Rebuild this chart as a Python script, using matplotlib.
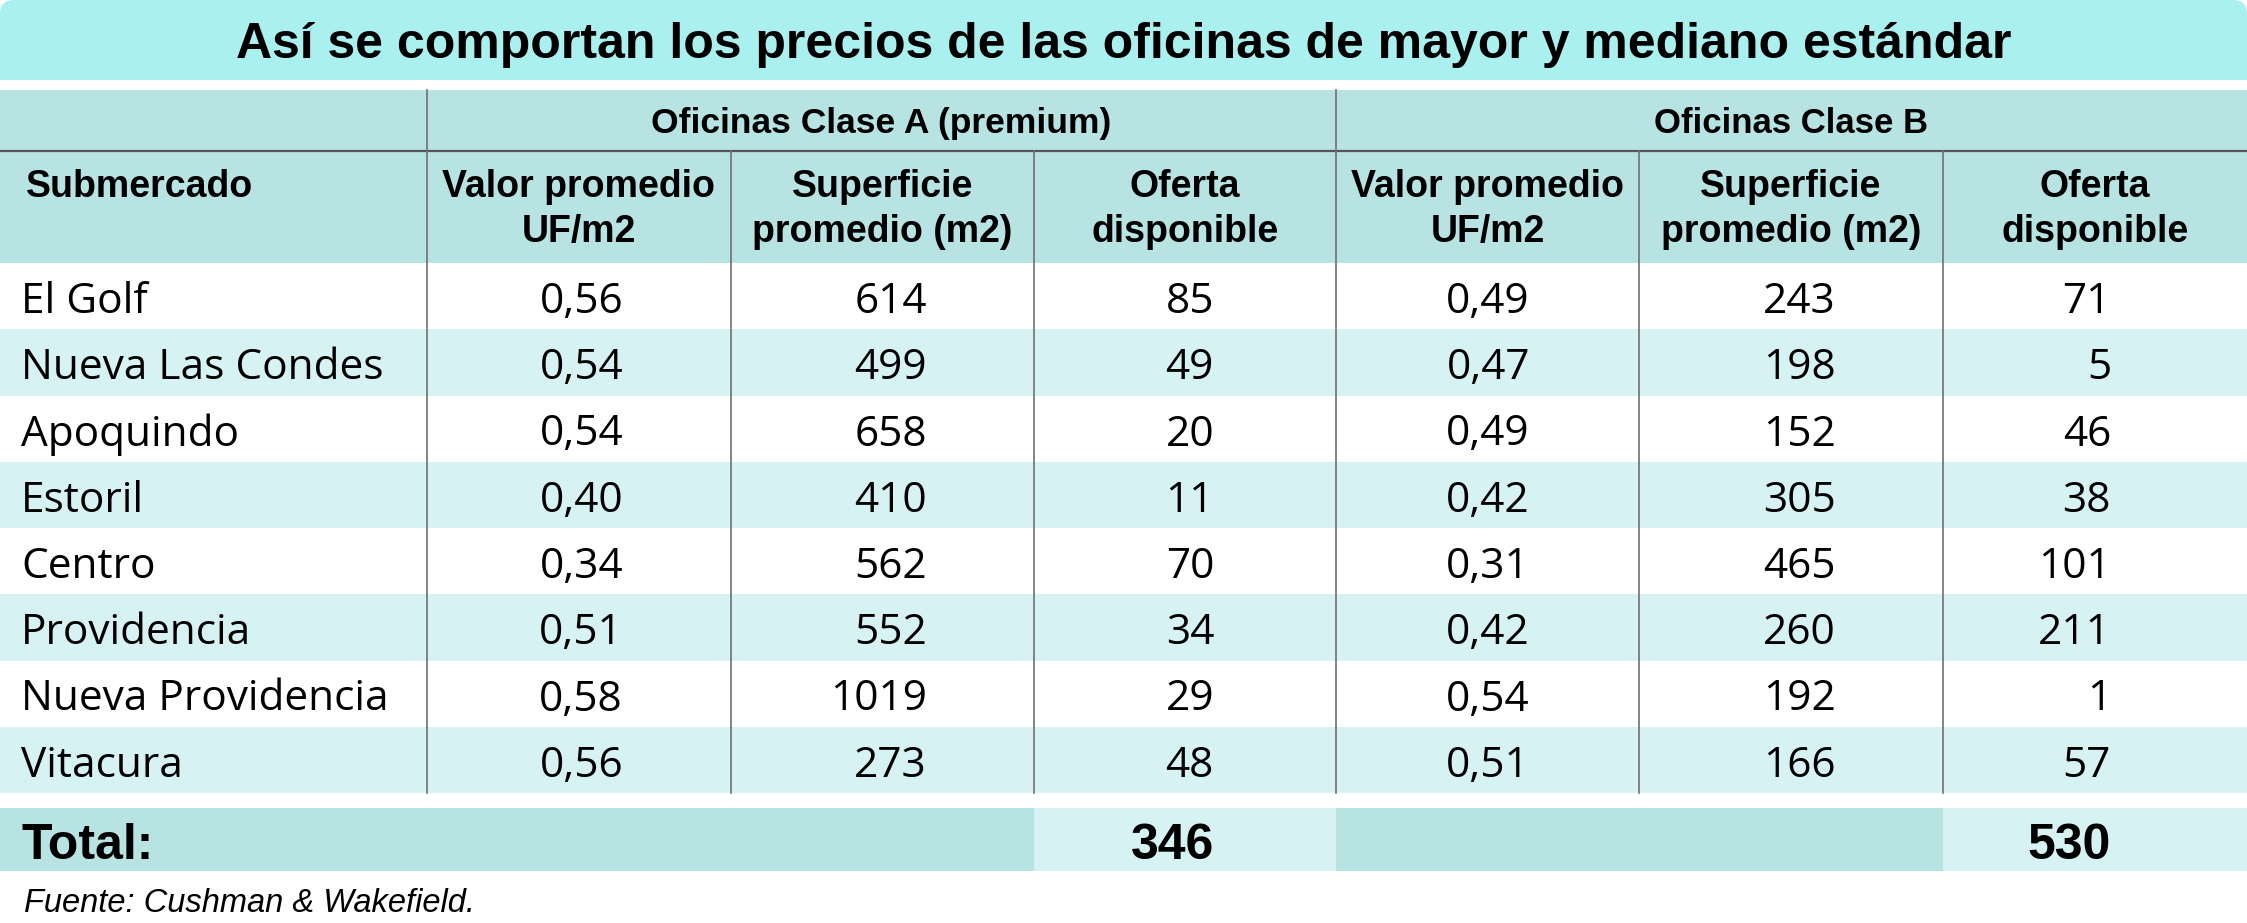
import matplotlib
matplotlib.use("Agg")
import matplotlib.pyplot as plt
from matplotlib.patches import Rectangle, FancyBboxPatch

# ---- data ----
title = "Así se comportan los precios de las oficinas de mayor y mediano estándar"
groups = ["Oficinas Clase A (premium)", "Oficinas Clase B"]
col_headers = [("Valor promedio", "UF/m2"), ("Superficie", "promedio (m2)"),
               ("Oferta", "disponible")] * 2
submercados = ["El Golf", "Nueva Las Condes", "Apoquindo", "Estoril", "Centro",
               "Providencia", "Nueva Providencia", "Vitacura"]
valor_a = ["0,56", "0,54", "0,54", "0,40", "0,34", "0,51", "0,58", "0,56"]
sup_a = [614, 499, 658, 410, 562, 552, 1019, 273]
oferta_a = [85, 49, 20, 11, 70, 34, 29, 48]
valor_b = ["0,49", "0,47", "0,49", "0,42", "0,31", "0,42", "0,54", "0,51"]
sup_b = [243, 198, 152, 305, 465, 260, 192, 166]
oferta_b = [71, 5, 46, 38, 101, 211, 1, 57]
total_a = 346
total_b = 530
fuente = "Fuente: Cushman & Wakefield."

# ---- layout (pixels) ----
W, H = 2247, 923
edges = [0, 427, 731, 1034, 1336, 1639, 1943, 2247]
right_x = [623, 927, 1214, 1530, 1836, 2111]
row_top, row_h = 263, 66.25

c_title = "#aaf0ef"
c_head = "#b7e3e3"
c_light = "#d7f2f2"
c_line = "#707070"

reg = ["Open Sans", "DejaVu Sans"]
cond = ["Liberation Sans Narrow", "Liberation Sans", "DejaVu Sans"]

fig = plt.figure(figsize=(W / 100, H / 100), dpi=100)
ax = fig.add_axes([0, 0, 1, 1])
ax.set_xlim(0, W)
ax.set_ylim(H, 0)
ax.axis("off")

# title band (rounded top corners, square bottom)
ax.add_patch(FancyBboxPatch((0, 0), W, 80, boxstyle="round,pad=0,rounding_size=14",
                            color=c_title, lw=0))
ax.add_patch(Rectangle((0, 40), W, 40, color=c_title, lw=0))
ax.text(W / 2, 58, title, ha="center", va="baseline", fontsize=36,
        fontweight="bold", family=cond)

# header band
ax.add_patch(Rectangle((0, 90), W, 263 - 90, color=c_head, lw=0))
ax.plot([0, W], [151, 151], color="#555555", lw=1.6)
for x in (427, 1336):
    ax.plot([x, x], [90, 151], color=c_line, lw=1.2)
ax.text((427 + 1336) / 2, 133, groups[0], ha="center", va="baseline",
        fontsize=25.5, fontweight="bold", family=cond)
ax.text((1336 + 2247) / 2, 133, groups[1], ha="center", va="baseline",
        fontsize=25, fontweight="bold", family=cond)
ax.text(26, 197, "Submercado", ha="left", va="baseline", fontsize=27,
        fontweight="bold", family=cond)
for i, (l1, l2) in enumerate(col_headers):
    cx = (edges[i + 1] + edges[i + 2]) / 2
    ax.text(cx, 197, l1, ha="center", va="baseline", fontsize=27,
            fontweight="bold", family=cond)
    ax.text(cx, 242, l2, ha="center", va="baseline", fontsize=27,
            fontweight="bold", family=cond)

# data rows
cols = [valor_a, sup_a, oferta_a, valor_b, sup_b, oferta_b]
for r, name in enumerate(submercados):
    y0 = row_top + r * row_h
    if r % 2 == 1:
        ax.add_patch(Rectangle((0, y0), W, row_h, color=c_light, lw=0))
    base = y0 + 50
    ax.text(21, base, name, ha="left", va="baseline", fontsize=30.5, family=reg)
    for c, vals in enumerate(cols):
        ax.text(right_x[c], base, str(vals[r]), ha="right", va="baseline",
                fontsize=30.5, family=reg)

for x in edges[1:-1]:
    ax.plot([x, x], [151, row_top + 8 * row_h], color=c_line, lw=1.2)

# total row
ty0, ty1 = 808, 871
ax.add_patch(Rectangle((0, ty0), edges[3], ty1 - ty0, color=c_head, lw=0))
ax.add_patch(Rectangle((edges[3], ty0), edges[4] - edges[3], ty1 - ty0,
                       color=c_light, lw=0))
ax.add_patch(Rectangle((edges[4], ty0), edges[6] - edges[4], ty1 - ty0,
                       color=c_head, lw=0))
ax.add_patch(Rectangle((edges[6], ty0), W - edges[6], ty1 - ty0,
                       color=c_light, lw=0))
ax.text(21, 859, "Total:", ha="left", va="baseline", fontsize=36,
        fontweight="bold", family=cond)
ax.text(right_x[2], 859, str(total_a), ha="right", va="baseline", fontsize=36,
        fontweight="bold", family=cond)
ax.text(right_x[5], 859, str(total_b), ha="right", va="baseline", fontsize=36,
        fontweight="bold", family=cond)

ax.text(24, 912, fuente, ha="left", va="baseline", fontsize=23.5,
        style="italic", family=cond)

fig.savefig("out.png", dpi=100)
